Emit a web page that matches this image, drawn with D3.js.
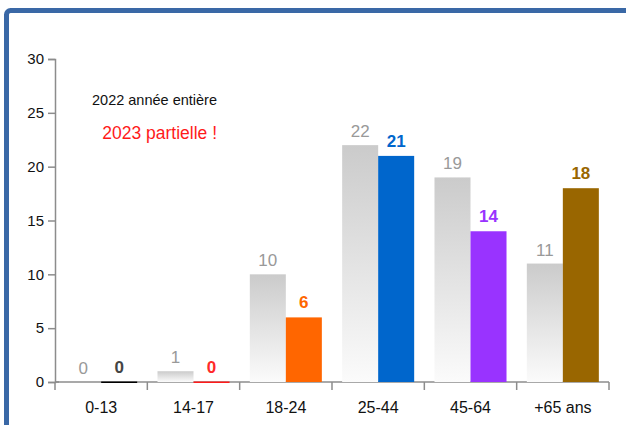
<!DOCTYPE html>
<html>
<head>
<meta charset="utf-8">
<script src="https://cdn.jsdelivr.net/npm/d3@7"></script>
<style>
  body { margin: 0; background: #fff; }
  svg { display: block; font-family: "Liberation Sans", Arial, sans-serif; }
</style>
</head>
<body>
<svg id="chart" width="626" height="425"></svg>
<script>
// age groups and counts
var categories = ["0-13", "14-17", "18-24", "25-44", "45-64", "+65 ans"];
var values2022 = [0, 1, 10, 22, 19, 11];
var values2023 = [0, 0, 6, 21, 14, 18];
var colors2023 = ["#000000", "#ff1a1a", "#ff6600", "#0066cc", "#9933ff", "#996600"];
var labelColors2023 = ["#444444", "#ff2a2a", "#ff6600", "#0066cc", "#9933ff", "#996600"];
var yTicks = [0, 5, 10, 15, 20, 25, 30];

var width = 626,
  height = 425,
  margin = {top: 59, right: 17, bottom: 43, left: 55};

var svg = d3.select("#chart");

// blue frame (cut off on the right and bottom)
svg.append("rect")
  .attr("x", 6.5)
  .attr("y", 10.5)
  .attr("width", 700)
  .attr("height", 500)
  .attr("rx", 4)
  .attr("fill", "none")
  .attr("stroke", "#3a68a6")
  .attr("stroke-width", 5);

var defs = svg.append("defs");
var grad = defs.append("linearGradient")
  .attr("id", "grayGrad")
  .attr("x1", 0).attr("y1", 0).attr("x2", 0).attr("y2", 1);
grad.append("stop").attr("offset", "0%").attr("stop-color", "#cbcbcb");
grad.append("stop").attr("offset", "100%").attr("stop-color", "#fbfbfb");

var x = d3.scaleBand()
  .domain(categories)
  .range([margin.left, width - margin.right])
  .paddingInner(0)
  .paddingOuter(0);

var y = d3.scaleLinear()
  .domain([0, 30])
  .range([height - margin.bottom, margin.top]);

var pad = x.bandwidth() * 0.11,
  barW = (x.bandwidth() - 2 * pad) / 2;

// axes
var yAxis = svg.append("g")
  .attr("transform", "translate(" + margin.left + ",0)")
  .call(d3.axisLeft(y).tickValues(yTicks).tickSize(7).tickPadding(4));

var xAxis = svg.append("g")
  .attr("transform", "translate(0," + y(0) + ")")
  .call(d3.axisBottom(x).tickSize(8).tickSizeOuter(8).tickPadding(12));

// move x ticks to category boundaries
xAxis.selectAll(".tick line")
  .attr("x1", -x.bandwidth() / 2)
  .attr("x2", -x.bandwidth() / 2);
xAxis.append("line")
  .attr("x1", width - margin.right).attr("x2", width - margin.right)
  .attr("y1", 0).attr("y2", 8);

[yAxis, xAxis].forEach(function(a){
  a.select(".domain").attr("stroke", "#8c8c8c").attr("stroke-width", 1.5);
  a.selectAll("line").attr("stroke", "#8c8c8c").attr("stroke-width", 1.5);
  a.selectAll("text").attr("font-size", 15).attr("fill", "#111")
    .attr("font-family", "Liberation Sans, Arial, sans-serif");
});
xAxis.selectAll(".tick text").attr("font-size", 16);
xAxis.select(".domain").attr("d", "M" + margin.left + ",0H" + (width - margin.right));
// small tick crossing right of zero
yAxis.append("line").attr("x1", 0).attr("x2", 4).attr("y1", y(0)).attr("y2", y(0))
  .attr("stroke", "#8c8c8c").attr("stroke-width", 1.5);

// 2022 bars
svg.append("g").selectAll("rect")
  .data(categories)
  .enter().append("rect")
  .attr("x", function(d){ return x(d) + pad; })
  .attr("y", function(d, i){ return y(values2022[i]); })
  .attr("width", barW)
  .attr("height", function(d, i){ return y(0) - y(values2022[i]); })
  .attr("fill", "url(#grayGrad)");

// 2023 bars (zero values still show a thin line on the baseline)
svg.append("g").selectAll("rect")
  .data(categories)
  .enter().append("rect")
  .attr("x", function(d){ return x(d) + pad + barW; })
  .attr("y", function(d, i){ return Math.min(y(values2023[i]), y(0) - 0.5); })
  .attr("width", barW)
  .attr("height", function(d, i){ return Math.max(y(0) - y(values2023[i]), 1.5); })
  .attr("fill", function(d, i){ return colors2023[i]; });

// value labels
svg.append("g").selectAll("text")
  .data(categories)
  .enter().append("text")
  .attr("x", function(d){ return x(d) + pad + barW / 2; })
  .attr("y", function(d, i){ return y(values2022[i]) - 8; })
  .attr("text-anchor", "middle")
  .attr("font-size", 17)
  .attr("fill", "#999999")
  .text(function(d, i){ return values2022[i]; });

svg.append("g").selectAll("text")
  .data(categories)
  .enter().append("text")
  .attr("x", function(d){ return x(d) + pad + barW * 1.5; })
  .attr("y", function(d, i){ return y(values2023[i]) - 9; })
  .attr("text-anchor", "middle")
  .attr("font-size", 17)
  .attr("font-weight", "bold")
  .attr("fill", function(d, i){ return labelColors2023[i]; })
  .text(function(d, i){ return values2023[i]; });

// legend notes
svg.append("text")
  .attr("x", 217).attr("y", 105)
  .attr("text-anchor", "end")
  .attr("font-size", 14.5)
  .attr("fill", "#111")
  .text("2022 année entière");

svg.append("text")
  .attr("x", 217).attr("y", 139)
  .attr("text-anchor", "end")
  .attr("font-size", 17.5)
  .attr("fill", "#ff1a1a")
  .text("2023 partielle !");
</script>
</body>
</html>
